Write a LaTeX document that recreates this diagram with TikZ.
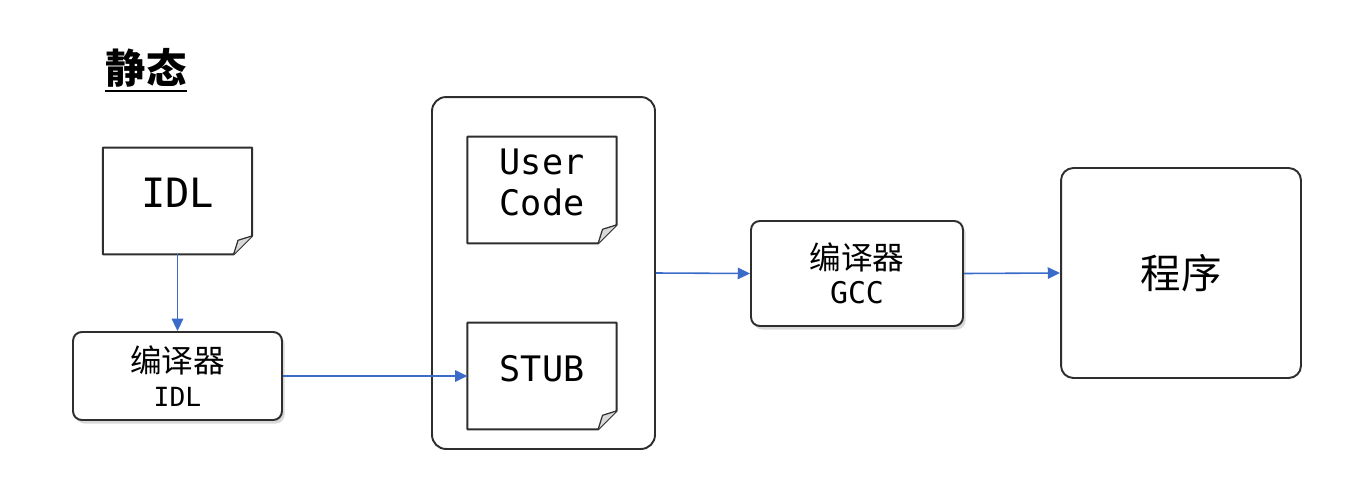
\documentclass[tikz,border=0pt]{standalone}
\usepackage{fontspec}
\newfontfamily\cjkfont{Noto Sans CJK SC}
\newfontfamily\idlfont{DejaVu Sans Mono}
\usepackage{tikz}
\usetikzlibrary{arrows.meta}
\usetikzlibrary{shadows}
\definecolor{linegray}{HTML}{2E2E2E}
\definecolor{arrowblue}{HTML}{3A6BC9}
\tikzset{
  doc/.style={minimum width=2.97cm, minimum height=2.12cm, inner sep=0pt, text depth=9pt, align=center},
  compiler/.style={draw=linegray, line width=1.1pt, rounded corners=5pt, fill=white, align=center,
    drop shadow={shadow xshift=1.5pt, shadow yshift=-2pt, opacity=0.3}},
  bigbox/.style={draw=linegray, line width=1.1pt, rounded corners=8pt},
  flow/.style={draw=arrowblue, line width=0.9pt, -{Triangle[length=7pt,width=6.5pt]}},
}

\begin{document}
\begin{tikzpicture}[x=0.02cm,y=-0.02cm]
\useasboundingbox (0,0) rectangle (1369,494);
\node[inner sep=0pt, font=\cjkfont\bfseries\fontsize{23}{27}\selectfont] (title) at (146,68) {静态};
\draw[line width=1.2pt] ([yshift=-2pt]title.south west) -- ([yshift=-2pt]title.south east);

\node[bigbox, minimum width=4.46cm, minimum height=7.04cm] (cont) at (543.5,273) {};
\node[doc, font=\idlfont\fontsize{23}{27}\selectfont] (idl) at (177.5,201) {IDL};
\node[doc, font=\idlfont\fontsize{20}{23}\selectfont] (user) at (542,190) {User\\Code};
\node[doc, font=\idlfont\fontsize{20}{25}\selectfont] (stub) at (542,376) {STUB};
% folded corner of the documents
\foreach \d in {idl,user,stub}{
  \draw[linegray, line width=1.1pt, line join=round] (\d.north west) -- (\d.north east)
    -- ([yshift=10.5pt]\d.south east) -- ([xshift=-10.5pt]\d.south east) -- (\d.south west) -- cycle;
  \filldraw[fill=black!15, draw=linegray, line width=0.7pt, line join=round] ([yshift=10.5pt]\d.south east)
    -- ([xshift=-8pt,yshift=8pt]\d.south east) -- ([xshift=-10.5pt]\d.south east);
}

\node[compiler, minimum width=4.18cm, minimum height=1.76cm, font=\fontsize{18}{19.5}\selectfont] (cidl) at (177.5,376)
  {{\cjkfont 编译器}\\{\idlfont\fontsize{15}{19.5}\selectfont IDL}};
\node[compiler, minimum width=4.24cm, minimum height=2.1cm, font=\fontsize{18}{19.5}\selectfont] (gcc) at (857,273.5)
  {{\cjkfont 编译器}\\{\idlfont\fontsize{17}{19.5}\selectfont GCC}};
\node[bigbox, rounded corners=7pt, minimum width=4.8cm, minimum height=4.2cm, font=\cjkfont\fontsize{23}{27}\selectfont] (prog) at (1181,273) {程序};

\draw[flow] (idl.south) -- (cidl.north);
\draw[flow] (cidl.east) -- (stub.west);
\draw[flow] (cont.east) -- (gcc.west);
\draw[flow] (gcc.east) -- (prog.west);
\end{tikzpicture}
\end{document}
